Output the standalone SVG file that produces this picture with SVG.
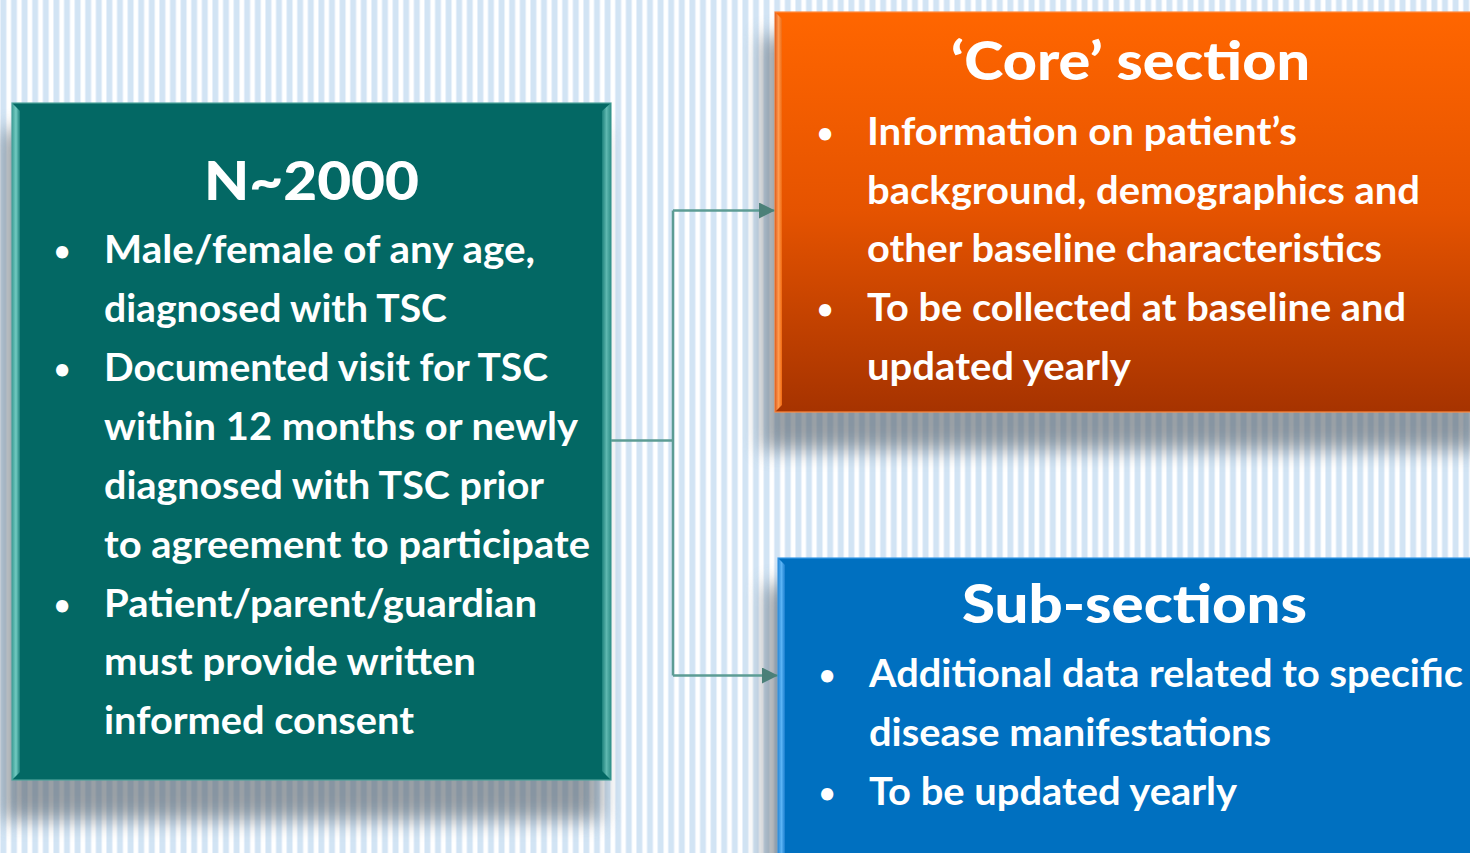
<svg xmlns="http://www.w3.org/2000/svg" width="1470" height="853" viewBox="0 0 1470 853">
<defs>
<pattern id="stripes" x="0" y="0" width="10.6" height="20" patternUnits="userSpaceOnUse">
<rect x="0" y="0" width="10.6" height="20" fill="#ffffff"/>
<rect x="0.6" y="0" width="5.6" height="20" fill="#d2e4f4"/>
<rect x="0" y="0" width="0.8" height="20" fill="#e6f0fa"/>
<rect x="6" y="0" width="0.8" height="20" fill="#e6f0fa"/>
</pattern>
<filter id="shadow" x="-20%" y="-20%" width="140%" height="140%">
<feGaussianBlur stdDeviation="10"/>
</filter>
<linearGradient id="gOrange" x1="0" y1="0" x2="0" y2="1">
<stop offset="0" stop-color="#ff6600"/>
<stop offset="0.5" stop-color="#e55300"/>
<stop offset="1" stop-color="#a63300"/>
</linearGradient>
<linearGradient id="bevGreenL" x1="0" y1="0" x2="1" y2="0">
<stop offset="0" stop-color="#3f9e96"/>
<stop offset="0.5" stop-color="#73cbc2"/>
<stop offset="1" stop-color="#1b807a"/>
</linearGradient>
<linearGradient id="bevGreenR" x1="0" y1="0" x2="1" y2="0">
<stop offset="0" stop-color="#1b807a"/>
<stop offset="0.5" stop-color="#5fb8b0"/>
<stop offset="1" stop-color="#2e8f88"/>
</linearGradient>
<linearGradient id="bevOrangeL" x1="0" y1="0" x2="1" y2="0">
<stop offset="0" stop-color="#e06020"/>
<stop offset="0.5" stop-color="#ff9a50"/>
<stop offset="1" stop-color="#f06a10"/>
</linearGradient>
<linearGradient id="bevBlueL" x1="0" y1="0" x2="1" y2="0">
<stop offset="0" stop-color="#2a8ad8"/>
<stop offset="0.5" stop-color="#5cb4f5"/>
<stop offset="1" stop-color="#1a7fcf"/>
</linearGradient>
<marker id="arrow" markerUnits="userSpaceOnUse" markerWidth="18" markerHeight="18" refX="16" refY="8" orient="auto">
<path d="M0,0 L16,8 L0,16 Z" fill="#4b8078"/>
</marker>
<style>
.t{font-family:Lato,"Open Sans","Liberation Sans",sans-serif;font-weight:700;fill:#ffffff;}
.body{font-size:39px;}
.head{font-size:53px;font-weight:900;}
.bul{font-size:28px;text-anchor:middle;}
.conn{fill:none;stroke:#5c9c94;stroke-width:2.5;}
.shadow{fill:#56626c;opacity:0.6;filter:url(#shadow);}
</style>
</defs>

<rect x="0" y="0" width="1470" height="853" fill="url(#stripes)"/>

<g id="shadows">
<rect class="shadow" x="2" y="130" width="600" height="690"/>
<rect class="shadow" x="762" y="36" width="720" height="414"/>
<rect class="shadow" x="765" y="585" width="720" height="300"/>
</g>

<g id="connectors">
<path class="conn" d="M611,440.5 H673"/>
<path class="conn" d="M673,210.5 V675.5"/>
<path class="conn" d="M673,210.5 H775" marker-end="url(#arrow)"/>
<path class="conn" d="M673,675.5 H778" marker-end="url(#arrow)"/>
</g>

<g id="node-n2000">
<rect x="12" y="103" width="599" height="677" fill="#036864" stroke="#4fa49c" stroke-width="1.2"/>
<polygon points="12,103 20,111 20,772 12,780" fill="url(#bevGreenL)"/>
<polygon points="611,103 602,111 602,771 611,780" fill="url(#bevGreenR)"/>
<text class="t head" x="204" y="200" textLength="215" lengthAdjust="spacingAndGlyphs">N~2000</text>
<text class="t bul" x="62" y="261">•</text>
<text class="t body" x="104" y="263" textLength="431" lengthAdjust="spacingAndGlyphs">Male/female of any age,</text>
<text class="t body" x="104" y="322" textLength="343" lengthAdjust="spacingAndGlyphs">diagnosed with TSC</text>
<text class="t bul" x="62" y="379">•</text>
<text class="t body" x="104" y="381" textLength="444" lengthAdjust="spacingAndGlyphs">Documented visit for TSC</text>
<text class="t body" x="104" y="440" textLength="474" lengthAdjust="spacingAndGlyphs">within 12 months or newly</text>
<text class="t body" x="104" y="499" textLength="440" lengthAdjust="spacingAndGlyphs">diagnosed with TSC prior</text>
<text class="t body" x="104" y="558" textLength="486" lengthAdjust="spacingAndGlyphs">to agreement to participate</text>
<text class="t bul" x="62" y="615">•</text>
<text class="t body" x="104" y="617" textLength="433" lengthAdjust="spacingAndGlyphs">Patient/parent/guardian</text>
<text class="t body" x="104" y="675" textLength="372" lengthAdjust="spacingAndGlyphs">must provide written</text>
<text class="t body" x="104" y="734" textLength="310" lengthAdjust="spacingAndGlyphs">informed consent</text>
</g>

<g id="node-core">
<rect x="775" y="12" width="700" height="400" fill="url(#gOrange)" stroke="#ff8a40" stroke-width="1.2"/>
<polygon points="775,12 782,19 782,405 775,412" fill="url(#bevOrangeL)"/>
<text class="t head" x="951" y="80" textLength="359" lengthAdjust="spacingAndGlyphs">‘Core’ section</text>
<text class="t bul" x="825" y="143">•</text>
<text class="t body" x="867" y="145" textLength="430" lengthAdjust="spacingAndGlyphs">Information on patient’s</text>
<text class="t body" x="867" y="204" textLength="553" lengthAdjust="spacingAndGlyphs">background, demographics and</text>
<text class="t body" x="867" y="262" textLength="515" lengthAdjust="spacingAndGlyphs">other baseline characteristics</text>
<text class="t bul" x="825" y="319">•</text>
<text class="t body" x="867" y="321" textLength="539" lengthAdjust="spacingAndGlyphs">To be collected at baseline and</text>
<text class="t body" x="867" y="380" textLength="264" lengthAdjust="spacingAndGlyphs">updated yearly</text>
</g>

<g id="node-sub">
<rect x="778" y="558" width="700" height="310" fill="#0070c0" stroke="#3a9ae6" stroke-width="1.2"/>
<polygon points="778,558 785,565 785,860 778,860" fill="url(#bevBlueL)"/>
<text class="t head" x="962" y="623" textLength="345" lengthAdjust="spacingAndGlyphs">Sub-sections</text>
<text class="t bul" x="827" y="685">•</text>
<text class="t body" x="869" y="687" textLength="594" lengthAdjust="spacingAndGlyphs">Additional data related to specific</text>
<text class="t body" x="869" y="746" textLength="402" lengthAdjust="spacingAndGlyphs">disease manifestations</text>
<text class="t bul" x="827" y="803">•</text>
<text class="t body" x="869" y="805" textLength="368" lengthAdjust="spacingAndGlyphs">To be updated yearly</text>
</g>
</svg>
